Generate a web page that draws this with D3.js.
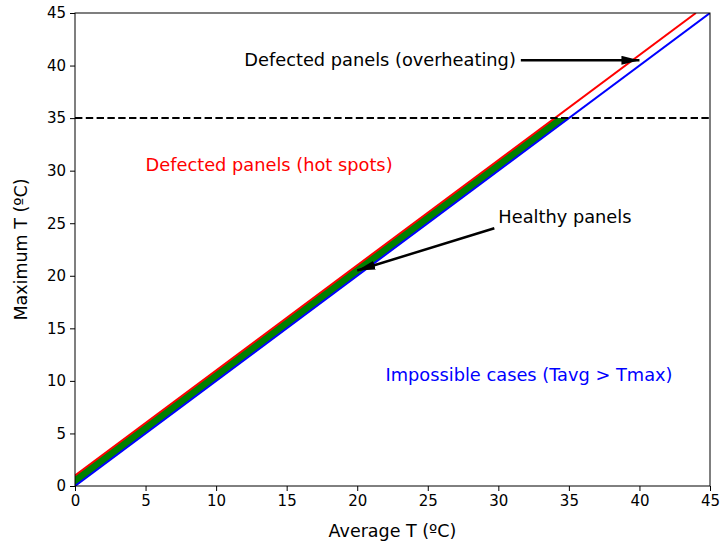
<!DOCTYPE html>
<html>
<head>
<meta charset="utf-8">
<script src="https://cdn.jsdelivr.net/npm/d3@7"></script>
<style>
  html, body { margin: 0; padding: 0; background: #fff; }
  svg text { font-family: "DejaVu Sans", sans-serif; }
</style>
</head>
<body>
<svg id="chart" width="721" height="544"></svg>
<script>
// Axis ticks (ºC)
const xTicks = [0, 5, 10, 15, 20, 25, 30, 35, 40, 45];
const yTicks = [0, 5, 10, 15, 20, 25, 30, 35, 40, 45];

// Reference lines: Tmax = Tavg (lower) and Tmax = Tavg + 1 (upper)
const lowerLine = [[0, 0], [45, 45]];
const upperLine = [[0, 1], [44, 45]];
// Healthy band between the two lines, capped by the overheating threshold
const bandX = [0, 34, 35];
const bandLow = [0, 34, 35];
const bandHigh = [1, 35, 35];
const threshold = 35;

// Text labels: [text, x, y, color]
const labels = [
  ["Defected panels (hot spots)", 5, 30, "#ff0000"],
  ["Impossible cases (Tavg > Tmax)", 22, 10, "#0000ff"]
];
// Annotations: text position and arrow target
const notes = [
  { text: "Defected panels (overheating)", x: 12, y: 40, tx: 40, ty: 40.5 },
  { text: "Healthy panels", x: 30, y: 25, tx: 20, ty: 20.5 }
];

const svg = d3.select("#chart");
const m = { left: 75, top: 13, right: 11, bottom: 58 };
const W = 721, H = 544;
const x = d3.scaleLinear().domain([0, 45]).range([m.left, W - m.right]);
const y = d3.scaleLinear().domain([0, 45]).range([H - m.bottom, m.top]);

const defs = svg.append("defs");
defs.append("clipPath").attr("id", "plot")
  .append("rect").attr("x", x(0)).attr("y", y(45))
  .attr("width", x(45) - x(0)).attr("height", y(0) - y(45));

const g = svg.append("g").attr("clip-path", "url(#plot)");

const band = d3.area()
  .x((d, i) => x(bandX[i]))
  .y0((d, i) => y(bandLow[i]))
  .y1((d, i) => y(bandHigh[i]));
g.append("path").datum(bandX).attr("d", band).attr("fill", "#008000");

const line = d3.line().x(d => x(d[0])).y(d => y(d[1]));
g.append("path").datum(upperLine).attr("d", line)
  .attr("fill", "none").attr("stroke", "#ff0000").attr("stroke-width", 2);
g.append("path").datum(lowerLine).attr("d", line)
  .attr("fill", "none").attr("stroke", "#0000ff").attr("stroke-width", 2);

g.append("line")
  .attr("x1", x(0)).attr("x2", x(45))
  .attr("y1", y(threshold)).attr("y2", y(threshold))
  .attr("stroke", "#000").attr("stroke-width", 2)
  .attr("stroke-dasharray", "7.4,3.4");

// Axes
const xAxis = d3.axisBottom(x).tickValues(xTicks).tickSize(5).tickPadding(4);
const yAxis = d3.axisLeft(y).tickValues(yTicks).tickSize(5).tickPadding(4);
const gx = svg.append("g").attr("transform", `translate(0,${y(0)})`).call(xAxis);
const gy = svg.append("g").attr("transform", `translate(${x(0)},0)`).call(yAxis);
[gx, gy].forEach(a => {
  a.select(".domain").remove();
  a.selectAll("line").attr("stroke", "#000").attr("stroke-width", 1);
  a.selectAll("text").attr("font-size", 15).attr("fill", "#000")
    .attr("font-family", "DejaVu Sans");
});

// Frame
svg.append("rect")
  .attr("x", x(0)).attr("y", y(45))
  .attr("width", x(45) - x(0)).attr("height", y(0) - y(45))
  .attr("fill", "none").attr("stroke", "#000").attr("stroke-width", 1);

// Axis titles
svg.append("text").attr("x", (x(0) + x(45)) / 2).attr("y", 537)
  .attr("text-anchor", "middle").attr("font-size", 17.5).text("Average T (ºC)");
svg.append("text")
  .attr("transform", `translate(27,${(y(0) + y(45)) / 2}) rotate(-90)`)
  .attr("text-anchor", "middle").attr("font-size", 17.5).text("Maximum T (ºC)");

// Region labels
labels.forEach(([t, lx, ly, c]) => {
  svg.append("text").attr("x", x(lx)).attr("y", y(ly))
    .attr("font-size", 17.8).attr("fill", c).text(t);
});

// Arrow head marker
defs.append("marker")
  .attr("id", "head").attr("viewBox", "0 0 18 9")
  .attr("refX", 18).attr("refY", 4.5)
  .attr("markerWidth", 18).attr("markerHeight", 9)
  .attr("markerUnits", "userSpaceOnUse").attr("orient", "auto")
  .append("path").attr("d", "M0,0 L18,4.5 L0,9 Z").attr("fill", "#000");

notes.forEach(n => {
  const t = svg.append("text").attr("x", x(n.x)).attr("y", y(n.y))
    .attr("font-size", 17.8).attr("fill", "#000").text(n.text);
  const b = t.node().getBBox();
  // start the arrow at the text box edge facing the target
  let sx, sy;
  if (x(n.tx) > b.x + b.width) { sx = b.x + b.width + 5; sy = y(n.ty); }
  else { sx = b.x - 4; sy = b.y + b.height + 1; }
  svg.append("line")
    .attr("x1", sx).attr("y1", sy).attr("x2", x(n.tx)).attr("y2", y(n.ty))
    .attr("stroke", "#000").attr("stroke-width", 2.5)
    .attr("marker-end", "url(#head)");
});
</script>
</body>
</html>
